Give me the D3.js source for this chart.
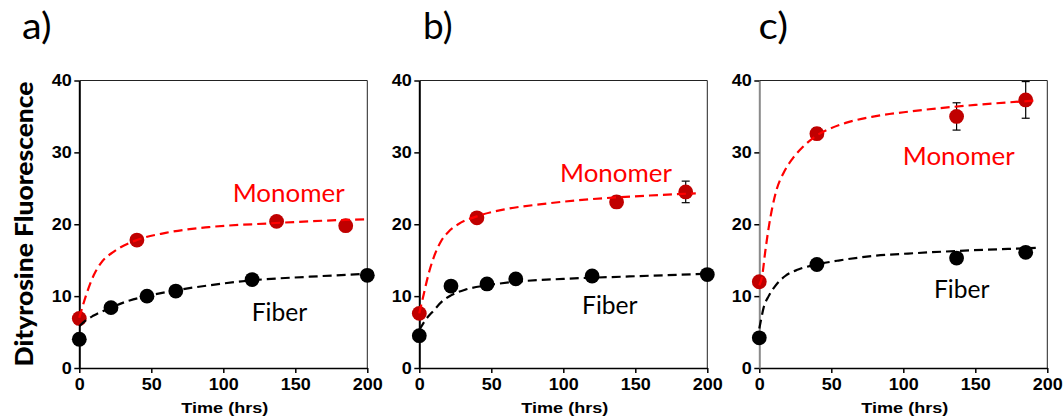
<!DOCTYPE html>
<html>
<head>
<meta charset="utf-8">
<script src="https://cdn.jsdelivr.net/npm/d3@7"></script>
<style>
  html, body { margin: 0; padding: 0; background: #fff; }
  svg { display: block; }
</style>
</head>
<body>
<svg id="chart" width="1064" height="418"></svg>
<script>
// ---- data ----
const panelLabels = ["a)", "b)", "c)"];
const timeTicks = [0, 50, 100, 150, 200];
const fluorTicks = [0, 10, 20, 30, 40];

const monomerHours = [0, 40, 137, 185];
const fiberHoursAB = [0, 22, 47, 67, 120, 200];
const fiberHoursC = [0, 40, 137, 185];

const monomerA = [6.9, 17.8, 20.4, 19.8];
const monomerAErr = [0, 0, 0, 0];
const fiberA = [4.0, 8.4, 10.0, 10.7, 12.3, 12.9];

const monomerB = [7.6, 20.9, 23.1, 24.5];
const monomerBErr = [0, 0, 0.8, 1.5];
const fiberB = [4.5, 11.4, 11.7, 12.4, 12.8, 13.0];

const monomerC = [12.0, 32.6, 35.0, 37.3];
const monomerCErr = [0, 0.8, 1.9, 2.55];
const fiberC = [4.2, 14.4, 15.3, 16.1];

// fitted binding curves, [hours, fluorescence]
const monomerFitA = [[0,7.0],[5,10.3],[10,12.9],[15,14.6],[24,16.2],[40,17.8],[60,18.8],[90,19.6],[130,20.1],[170,20.5],[200,20.7]];
const fiberFitA = [[0,5.8],[5,6.7],[10,7.3],[22,8.4],[35,9.4],[47,10.0],[67,10.8],[90,11.5],[120,12.2],[160,12.7],[200,13.1]];
const monomerFitB = [[0,7.6],[3,10.2],[7,13.5],[11,15.9],[15,17.6],[20,18.9],[27,20.0],[40,21.1],[60,22.1],[85,22.8],[120,23.5],[160,24.0],[192,24.3]];
const fiberFitB = [[0,5.3],[4,6.6],[10,8.0],[16,9.3],[22,10.1],[32,10.9],[47,11.5],[67,12.0],[100,12.4],[140,12.7],[200,13.1]];
const monomerFitC = [[0,11.5],[2,12.8],[4,16.0],[6.5,19.5],[9,22.3],[12,24.8],[17,27.2],[23,29.1],[30,30.7],[38,32.1],[48,33.2],[60,34.1],[80,35.0],[105,35.7],[150,36.6],[191,37.2]];
const fiberFitC = [[0,5.5],[1,6.5],[3,8.4],[6.5,10.0],[11,11.4],[18,12.8],[27,13.7],[40,14.4],[55,14.95],[80,15.6],[110,16.0],[139,16.3],[192,16.7]];

const seriesNames = ["Monomer", "Fiber"];
const yTitle = "Dityrosine Fluorescence";
const xTitle = "Time (hrs)";

// ---- layout ----
const panels = [
  { label: panelLabels[0], left: 79.3,  labelX: 22,  yAxisColor: "#000",
    mono: monomerA, monoErr: monomerAErr, fiberT: fiberHoursAB, fiber: fiberA,
    monoFit: monomerFitA, fiberFit: fiberFitA,
    monoText: [106.5, 23.1], fiberText: [119.7, 6.5] },
  { label: panelLabels[1], left: 419.3, labelX: 423, yAxisColor: "#000",
    mono: monomerB, monoErr: monomerBErr, fiberT: fiberHoursAB, fiber: fiberB,
    monoFit: monomerFitB, fiberFit: fiberFitB,
    monoText: [97.7, 25.9], fiberText: [113, 7.5] },
  { label: panelLabels[2], left: 759.3, labelX: 758.5, yAxisColor: "#8a8a8a",
    mono: monomerC, monoErr: monomerCErr, fiberT: fiberHoursC, fiber: fiberC,
    monoFit: monomerFitC, fiberFit: fiberFitC,
    monoText: [99.6, 28.2], fiberText: [121.3, 9.8] }
];
const plotW = 288, plotTop = 80.5, plotBottom = 368;
const RED_MARK = "#c00000", RED_LINE = "#ff0000";

const svg = d3.select("#chart");
svg.append("rect").attr("width", 1064).attr("height", 418).attr("fill", "#fff");

// stretch a text element horizontally by a factor
function stretch(node, k) {
  const len = node.getComputedTextLength();
  d3.select(node).attr("textLength", len * k).attr("lengthAdjust", "spacingAndGlyphs");
}

panels.forEach(p => {
  const x = d3.scaleLinear().domain([0, 200]).range([p.left, p.left + plotW]);
  const y = d3.scaleLinear().domain([0, 40]).range([plotBottom, plotTop]);
  const g = svg.append("g");

  // frame (top and right)
  g.append("path")
    .attr("d", `M${x(0)},${y(40)}H${x(200)}V${y(0)}`)
    .attr("fill", "none").attr("stroke", "#222").attr("stroke-width", 1);

  // axes
  const xAxis = g.append("g").attr("transform", `translate(0,${y(0)})`)
    .call(d3.axisBottom(x).tickValues(timeTicks).tickSize(5).tickPadding(5).tickSizeOuter(0));
  const yAxis = g.append("g").attr("transform", `translate(${x(0)},0)`)
    .call(d3.axisLeft(y).tickValues(fluorTicks).tickSize(5).tickPadding(2.5).tickSizeOuter(0));
  [xAxis, yAxis].forEach(ax => {
    ax.selectAll("text").attr("fill", "#000")
      .style("font-family", "'Liberation Sans', Arial, sans-serif")
      .style("font-weight", "bold").style("font-size", "17px");
    ax.selectAll("line").attr("stroke", "#000").attr("stroke-width", 1.5);
    ax.select(".domain").attr("stroke", "#000").attr("stroke-width", 1.5);
    ax.selectAll("text").each(function () { stretch(this, 1.06); });
  });
  yAxis.select(".domain").attr("stroke", p.yAxisColor).attr("stroke-width", 2);

  // x title
  g.append("text")
    .attr("x", x(100) + 1.5).attr("y", 413)
    .attr("text-anchor", "middle")
    .style("font-family", "'Liberation Sans', Arial, sans-serif")
    .style("font-weight", "bold").style("font-size", "15.5px")
    .attr("textLength", 87).attr("lengthAdjust", "spacingAndGlyphs")
    .text(xTitle);

  // panel label
  g.append("text")
    .attr("x", p.labelX).attr("y", 39.3)
    .style("font-family", "Lato, 'Open Sans', sans-serif")
    .style("font-size", "37px")
    .attr("textLength", 29.5).attr("lengthAdjust", "spacingAndGlyphs")
    .text(p.label);

  // error bars
  const errData = monomerHours.map((t, i) => ({ t, v: p.mono[i], e: p.monoErr[i] })).filter(d => d.e > 0);
  const eb = g.append("g").attr("stroke", "#000").attr("stroke-width", 1.2);
  errData.forEach(d => {
    eb.append("line").attr("x1", x(d.t)).attr("x2", x(d.t)).attr("y1", y(d.v - d.e)).attr("y2", y(d.v + d.e));
    [d.v - d.e, d.v + d.e].forEach(v => {
      eb.append("line").attr("x1", x(d.t) - 4).attr("x2", x(d.t) + 4).attr("y1", y(v)).attr("y2", y(v));
    });
  });

  // markers
  g.append("g").selectAll("circle")
    .data(p.fiberT.map((t, i) => [t, p.fiber[i]]))
    .join("circle")
    .attr("cx", d => x(d[0])).attr("cy", d => y(d[1])).attr("r", 7.4)
    .attr("fill", "#000");
  g.append("g").selectAll("circle")
    .data(monomerHours.map((t, i) => [t, p.mono[i]]))
    .join("circle")
    .attr("cx", d => x(d[0])).attr("cy", d => y(d[1])).attr("r", 7.4)
    .attr("fill", RED_MARK);

  // fitted curves
  const line = d3.line().x(d => x(d[0])).y(d => y(d[1])).curve(d3.curveMonotoneX);
  g.append("path").datum(p.fiberFit).attr("d", line)
    .attr("fill", "none").attr("stroke", "#000").attr("stroke-width", 2.2)
    .attr("stroke-dasharray", "9,5");
  g.append("path").datum(p.monoFit).attr("d", line)
    .attr("fill", "none").attr("stroke", RED_LINE).attr("stroke-width", 2.2)
    .attr("stroke-dasharray", "9,5");

  // series labels
  g.append("text")
    .attr("x", x(p.monoText[0])).attr("y", y(p.monoText[1]))
    .attr("fill", RED_LINE)
    .style("font-family", "Lato, 'Open Sans', sans-serif").style("font-size", "25.5px")
    .attr("textLength", 112).attr("lengthAdjust", "spacingAndGlyphs")
    .text(seriesNames[0]);
  g.append("text")
    .attr("x", x(p.fiberText[0])).attr("y", y(p.fiberText[1]))
    .attr("fill", "#000")
    .style("font-family", "Lato, 'Open Sans', sans-serif").style("font-size", "24.5px")
    .attr("textLength", 55.5).attr("lengthAdjust", "spacingAndGlyphs")
    .text(seriesNames[1]);
});

// shared y title
svg.append("text")
  .attr("transform", `translate(33,224) rotate(-90)`)
  .attr("text-anchor", "middle")
  .style("font-family", "Lato, 'Open Sans', sans-serif")
  .style("font-weight", "900").style("font-size", "25.5px")
  .attr("textLength", 285).attr("lengthAdjust", "spacingAndGlyphs")
  .text(yTitle);
</script>
</body>
</html>
